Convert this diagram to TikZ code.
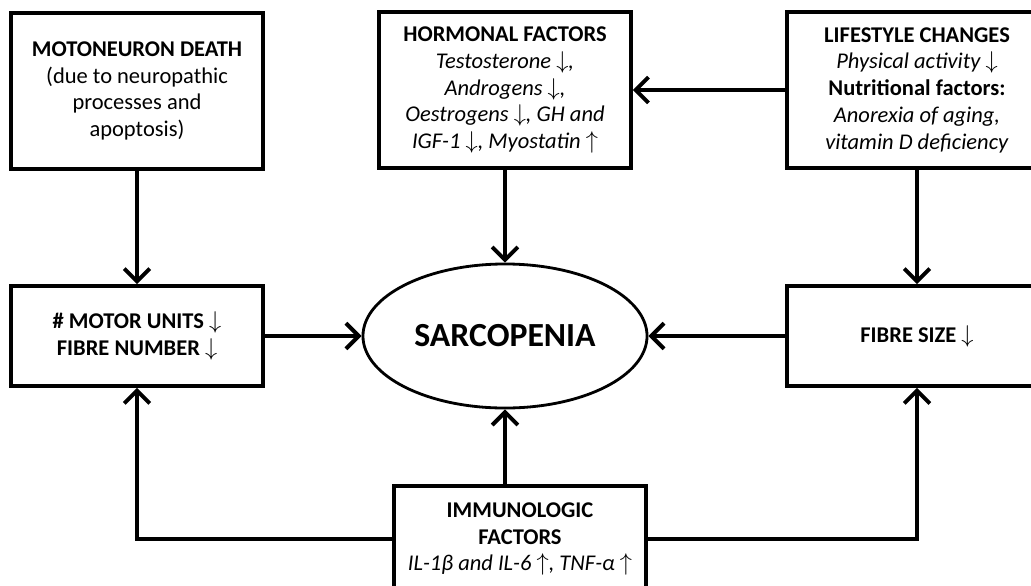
\documentclass[tikz,border=0pt]{standalone}
\usepackage{fontspec}
\setmainfont{Carlito}
\usetikzlibrary{arrows.meta,shapes.geometric}

\newcommand{\dn}{$\downarrow$}
\newcommand{\upa}{$\uparrow$}

\begin{document}
\begin{tikzpicture}[x=0.025cm, y=-0.025cm,
  box/.style={rectangle, draw, line width=2.6pt, align=center, inner sep=2pt,
    minimum width=6.3cm, font=\fontsize{16}{19}\selectfont},
  tall/.style={box, minimum height=3.9cm},
  flat/.style={box, minimum height=2.5cm},
  core/.style={ellipse, draw, line width=2pt, minimum width=7.1cm, minimum height=3.6cm,
    font=\fontsize{24}{28}\selectfont\bfseries},
  link/.style={draw, line width=2.8pt, -{Straight Barb[length=3.2mm, width=6.4mm]}}
]
  \useasboundingbox (0,0) rectangle (1031,585);
  \clip (0,0) rectangle (1031,585);

  % top row
  \node[tall] (death) at (137,91) {\textbf{MOTONEURON DEATH}\\(due to neuropathic\\processes and\\apoptosis)};
  \node[tall] (hormone) at (505,90) {\textbf{HORMONAL FACTORS}\\\textit{Testosterone \dn,}\\\textit{Androgens \dn,}\\\textit{Oestrogens \dn, GH and}\\\textit{IGF-1 \dn, Myostatin \upa}};
  \node[tall, minimum width=6.5cm] (lifestyle) at (917,90) {\textbf{LIFESTYLE CHANGES}\\\textit{Physical activity \dn}\\\textbf{Nutritional factors:}\\\textit{Anorexia of aging,}\\\textit{vitamin D deficiency}};

  % middle row
  \node[flat] (units) at (137,336) {\textbf{\# MOTOR UNITS \dn}\\\textbf{FIBRE NUMBER \dn}};
  \node[core] (sarco) at (505,336) {SARCOPENIA};
  \node[flat, minimum width=6.5cm] (size) at (917,336) {\textbf{FIBRE SIZE \dn}};

  % bottom
  \node[flat, minimum height=2.65cm] (immune) at (520,539) {\textbf{IMMUNOLOGIC}\\\textbf{FACTORS}\\\textit{IL-1β and IL-6 \upa, TNF-α \upa}};

  \draw[link] (death) -- (units);
  \draw[link] (hormone) -- (sarco);
  \draw[link] (lifestyle) -- (hormone);
  \draw[link] (lifestyle) -- (size);
  \draw[link] (units) -- (sarco);
  \draw[link] (size) -- (sarco);
  \draw[link] (immune.north -| sarco) -- (sarco);
  \draw[link] (immune.west) -| (units);
  \draw[link] (immune.east) -| (size);
\end{tikzpicture}
\end{document}
